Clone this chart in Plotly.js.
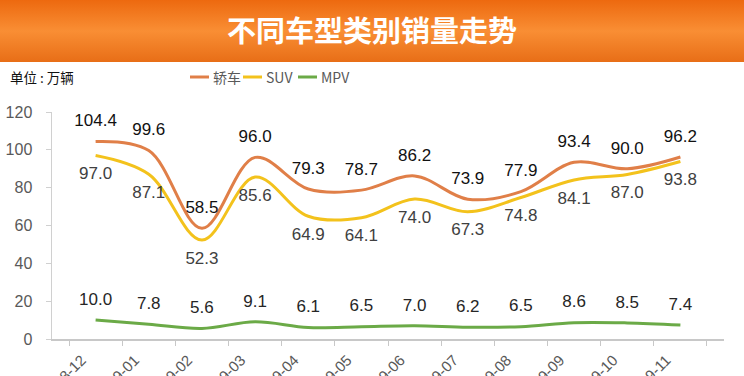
<!DOCTYPE html>
<html>
<head>
<meta charset="utf-8">
<script src="https://cdn.plot.ly/plotly-3.0.1.min.js"></script>
<style>
  html, body { margin: 0; padding: 0; background: #ffffff; }
  #wrap { position: relative; width: 744px; height: 376px; overflow: hidden; }
  #band { position: absolute; left: 0; top: 0; width: 744px; height: 62px;
          background: linear-gradient(to bottom, #ED690F 0%, #F98E34 50%, #E86E17 100%); }
  #chart { position: absolute; left: 0; top: 0; width: 744px; height: 376px; }
</style>
</head>
<body>
<div id="wrap">
  <div id="band"></div>
  <div id="chart"></div>
</div>
<script>
const months = ["2018-12","2019-01","2019-02","2019-03","2019-04","2019-05","2019-06","2019-07","2019-08","2019-09","2019-10","2019-11"];
const sedan = [104.4, 99.6, 58.5, 96.0, 79.3, 78.7, 86.2, 73.9, 77.9, 93.4, 90.0, 96.2];
const suv   = [97.0, 87.1, 52.3, 85.6, 64.9, 64.1, 74.0, 67.3, 74.8, 84.1, 87.0, 93.8];
const mpv   = [10.0, 7.8, 5.6, 9.1, 6.1, 6.5, 7.0, 6.2, 6.5, 8.6, 8.5, 7.4];
const seriesNames = ["轿车", "SUV", "MPV"];
const seriesColors = ["#E07F48", "#F3C21C", "#6BAA47"];
const chartTitle = "不同车型类别销量走势";
const unitLabel = "单位 : 万辆";

const fontLatin = "Liberation Sans, Arial, Noto Sans CJK SC, sans-serif";
const fontCJK = "Noto Sans CJK SC, Liberation Sans, sans-serif";

// plot area geometry (px) for legend placement
const M = { l: 52, r: 20, t: 112, b: 37 };
const PW = 744 - M.l - M.r, PH = 376 - M.t - M.b;
const px2x = px => (px - M.l) / PW;
const py2y = py => (376 - M.b - py) / PH;

function mk(name, ys, color, pos, tcolor) {
  return {
    type: "scatter",
    mode: "lines+markers+text",
    name: name,
    x: months,
    y: ys,
    text: ys.map(v => v.toFixed(1)),
    textposition: pos,
    textfont: { family: fontLatin, size: 17, color: tcolor },
    line: { color: color, width: 3, shape: "spline", smoothing: 1 },
    marker: { size: 16, color: "rgba(0,0,0,0)" },
    cliponaxis: false,
    showlegend: false,
    hoverinfo: "x+y"
  };
}

const data = [
  mk(seriesNames[0], sedan, seriesColors[0], "top center", "#111111"),
  mk(seriesNames[1], suv, seriesColors[1], "bottom center", "#404040"),
  mk(seriesNames[2], mpv, seriesColors[2], "top center", "#262626")
];

// custom compact legend (short line swatches)
const legendLeft = [190, 243, 298];
const legendY = 77;
const shapes = [];
const annotations = [{
  text: unitLabel,
  xref: "paper", yref: "paper",
  x: px2x(8), xanchor: "left",
  y: py2y(77), yanchor: "middle",
  showarrow: false,
  font: { family: fontCJK, size: 13.5, color: "#111111" }
}];
seriesNames.forEach((n, i) => {
  shapes.push({
    type: "line", xref: "paper", yref: "paper",
    x0: px2x(legendLeft[i]), x1: px2x(legendLeft[i] + 19),
    y0: py2y(legendY), y1: py2y(legendY),
    line: { color: seriesColors[i], width: 3 }
  });
  annotations.push({
    text: n, xref: "paper", yref: "paper",
    x: px2x(legendLeft[i] + 21), xanchor: "left",
    y: py2y(legendY), yanchor: "middle",
    showarrow: false,
    font: { family: fontCJK, size: 14, color: "#595959" }
  });
});

const layout = {
  width: 744,
  height: 376,
  margin: M,
  paper_bgcolor: "rgba(0,0,0,0)",
  plot_bgcolor: "rgba(0,0,0,0)",
  title: {
    text: chartTitle,
    font: { family: fontCJK, size: 29, color: "#ffffff", weight: "bold" },
    x: 0.5, xref: "container", xanchor: "center",
    y: 1 - 32 / 376, yref: "container", yanchor: "middle"
  },
  showlegend: false,
  shapes: shapes,
  annotations: annotations,
  xaxis: {
    type: "category",
    tickson: "boundaries",
    ticks: "outside",
    ticklen: 5,
    tickcolor: "#c8c8c8",
    showline: true,
    linecolor: "#c8c8c8",
    linewidth: 1.5,
    showgrid: false,
    zeroline: false,
    tickangle: -45,
    ticklabelstandoff: 5,
    ticklabelshift: -14,
    tickfont: { family: fontLatin, size: 15, color: "#595959" },
    automargin: false
  },
  yaxis: {
    range: [0, 120],
    dtick: 20,
    showline: true,
    linecolor: "#d0d0d0",
    linewidth: 1.5,
    ticks: "outside",
    ticklen: 5,
    tickcolor: "#d0d0d0",
    ticklabelstandoff: 10,
    showgrid: false,
    zeroline: false,
    tickfont: { family: fontLatin, size: 16, color: "#595959" },
    automargin: false
  }
};

Plotly.newPlot("chart", data, layout, { displayModeBar: false, staticPlot: true });
</script>
</body>
</html>
